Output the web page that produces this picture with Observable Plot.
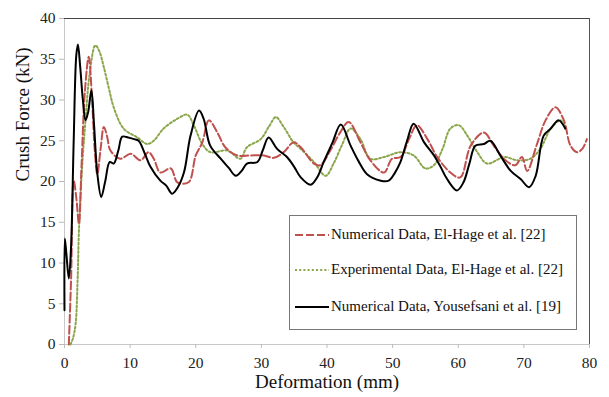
<!DOCTYPE html>
<html>
<head>
<meta charset="utf-8">
<script src="https://cdn.jsdelivr.net/npm/d3@7"></script>
<script src="https://cdn.jsdelivr.net/npm/@observablehq/plot@0.6"></script>
<style>
  body { margin: 0; background: #fff; }
  #wrap { position: relative; width: 609px; height: 397px; font-family: 'Liberation Serif', 'Times New Roman', Times, 'Nimbus Roman', 'Nimbus Roman No9 L', Tinos, 'Noto Serif', 'DejaVu Serif', FreeSerif, serif; }
  #wrap svg, #wrap svg text { font-family: 'Liberation Serif', 'Times New Roman', Times, 'Nimbus Roman', 'Nimbus Roman No9 L', Tinos, 'Noto Serif', 'DejaVu Serif', FreeSerif, serif !important; }
  #wrap svg g[aria-label="y-axis tick"] path, #wrap svg g[aria-label="x-axis tick"] path { stroke: #bbb; }
  #legend { position: absolute; left: 289px; top: 215px; width: 288px; height: 115px; border: 1px solid #777; background: #fff; box-sizing: border-box; }
  .row { position: absolute; left: 5px; display: flex; align-items: center; font-size: 15px; color: #111; white-space: nowrap; }
  .row svg { margin-right: 2px; }
</style>
</head>
<body>
<div id="wrap"></div>
<script>
// Series: Numerical Data, El-Hage et al. [22] (red dashed)
const redX = [0.66,1.0,1.4,1.8,2.2,2.6,3.1,3.7,4.2,4.6,5.0,5.5,6.0,6.5,7.0,8.5,10.1,11.6,12.8,13.6,14.6,16.2,17.2,18.9,20.0,21.0,22.0,23.3,24.5,26.3,28.3,30.4,31.9,33.4,34.9,36.0,38.0,39.0,40.5,42.0,43.3,45.1,46.6,48.7,49.9,51.2,52.5,53.7,55.3,56.8,58.8,60.3,61.9,63.9,65.4,67.2,68.7,69.7,70.5,72.0,73.3,74.8,76.1,77.1,78.1,78.9,79.6];
const redY = [0,8,20.1,18,14.8,22,31,35.3,30,24,20.9,24,26.7,25.5,23.8,22.8,23.4,22.6,23.6,22.8,21.1,21.6,19.9,19.9,23.2,24.8,27.5,26.0,24.2,23.2,23.2,23.2,22.9,23.6,24.8,24.2,22.2,22.0,23.8,26.0,27.3,24.8,22.6,21.1,22.8,23.0,25.2,26.9,25.2,23.0,21.1,20.5,24.4,26.0,24.4,22.6,22.0,23.0,21.3,24.6,27.5,29.1,27.5,24.4,23.6,24.0,25.2];

// Series: Experimental Data, El-Hage et al. [22] (green dotted)
const greenX = [0.9,1.3,1.7,2.0,2.2,2.7,3.2,3.8,4.7,5.3,6.0,6.8,7.5,9.0,11.1,12.6,13.6,15.1,17.2,18.7,19.7,21.0,22.2,24.8,26.8,27.8,29.9,31.2,32.2,33.4,34.9,36.0,38.0,39.8,41.0,42.3,43.6,45.1,46.6,48.7,51.2,53.2,55.0,56.3,57.6,58.8,60.1,61.4,62.9,64.4,67.0,69.0,71.0,72.5,74.1,75.6,76.3];
const greenY = [0,0.8,2.6,8,14,22,27.5,33,36.7,36,34.0,31.3,29.1,26.5,25.4,24.6,25,26.5,27.7,28.2,26.9,24.6,23.6,23.8,22.8,24.2,25.2,26.8,27.9,26.7,24.8,24.0,22.4,20.7,22.2,24.5,26.5,25.2,22.8,23.0,23.6,23.2,21.6,22.0,24.0,26.5,26.9,25.6,23.6,22.2,23.0,22.6,22.8,24.0,26.5,27.5,26.7];

// Series: Numerical Data, Yousefsani et al. [19] (black solid)
const blackX = [0,0.05,0.3,0.66,1.0,1.4,1.8,2.05,2.4,2.8,3.2,3.6,4.1,4.5,5.0,5.6,6.2,6.9,7.5,8.2,8.8,9.7,10.6,11.3,12.2,13.1,14.6,15.5,16.4,17.2,18.2,19.2,20.5,21.2,22.2,23.8,25.0,26.1,27.0,27.8,29.4,30.2,31.1,32.4,33.9,35.0,36.0,37.5,38.5,39.5,40.8,42.1,43.6,44.8,46.1,48.2,49.4,50.3,51.2,52.2,53.2,54.8,56.3,57.3,58.3,59.8,60.8,61.7,62.6,63.9,64.9,66.4,68.0,69.5,70.8,71.8,73.0,74.1,75.3,76.3];
const blackY = [4.2,13.0,11,8.1,12,25,35.5,36.8,34,30,27.5,28.5,31.2,27,21,18.1,20,22.4,22.2,23.8,25.5,25.4,25.2,25.0,23.5,21.8,20.1,19.5,18.5,19.2,21.1,25.6,28.7,27.7,24.4,22.8,21.7,20.7,21.3,22.2,22.4,23.8,25.4,24.0,23.0,21.8,20.5,19.6,20.5,22.4,24.7,27.0,24.4,22.5,20.9,20.1,20.1,21,22.4,25,27.1,24.8,23.2,21.8,20.3,18.9,19.9,22.2,24.4,24.6,25.0,23.2,21.3,20.3,19.3,20.7,25.6,26.5,27.5,26.5];

const xTicks = [0,10,20,30,40,50,60,70,80];
const yTicks = [0,5,10,15,20,25,30,35,40];
const seriesNames = [
  "Numerical Data, El-Hage et al. [22]",
  "Experimental Data, El-Hage et al. [22]",
  "Numerical Data, Yousefsani et al. [19]"
];
const seriesColors = ["#c0504d", "#8aa64a", "#000000"];
const seriesDash = ["8,3", "2,2.2", null];
const seriesWidth = [2, 2, 2];

const toRows = (xs, ys) => xs.map((x, i) => ({x, y: ys[i]}));
const red = toRows(redX, redY);
const green = toRows(greenX, greenY);
const black = toRows(blackX, blackY);

const chart = Plot.plot({
  width: 609,
  height: 397,
  marginLeft: 64,
  marginRight: 20,
  marginTop: 18,
  marginBottom: 53,
  style: {fontSize: "15.5px", color: "#222", background: "#fff", overflow: "visible"},
  x: {domain: [0, 80]},
  y: {domain: [0, 40]},
  marks: [
    Plot.ruleX([0], {stroke: "#c8c8c8"}),
    Plot.ruleY([0], {stroke: "#c8c8c8"}),
    Plot.ruleY([40], {stroke: "#444"}),
    Plot.ruleX([80], {stroke: "#555"}),
    Plot.axisY({ticks: yTicks, tickSize: 5, tickPadding: 4, label: null}),
    Plot.axisX({ticks: xTicks, tickSize: 4, tickPadding: 8, label: null}),
    Plot.line(green, {x: "x", y: "y", stroke: seriesColors[1], strokeWidth: seriesWidth[1], strokeDasharray: seriesDash[1], curve: "catmull-rom"}),
    Plot.line(red, {x: "x", y: "y", stroke: seriesColors[0], strokeWidth: seriesWidth[0], strokeDasharray: seriesDash[0], curve: "catmull-rom"}),
    Plot.line(black, {x: "x", y: "y", stroke: seriesColors[2], strokeWidth: seriesWidth[2], curve: "catmull-rom"}),
    Plot.text(["Deformation (mm)"], {frameAnchor: "bottom", dy: 43, fontSize: 19, fill: "#111"}),
    Plot.text(["Crush Force (kN)"], {frameAnchor: "left", dx: -42, rotate: -90, fontSize: 19, fill: "#111"})
  ]
});

const wrap = document.getElementById("wrap");
wrap.appendChild(chart);

// Legend (HTML overlay)
const legend = document.createElement("div");
legend.id = "legend";
const rowTops = [10, 45, 82];
seriesNames.forEach((name, i) => {
  const row = document.createElement("div");
  row.className = "row";
  row.style.top = rowTops[i] + "px";
  const dash = seriesDash[i] ? `stroke-dasharray="${seriesDash[i]}"` : "";
  row.innerHTML = `<svg width="34" height="10"><line x1="0" y1="5" x2="34" y2="5" stroke="${seriesColors[i]}" stroke-width="2.2" ${dash}/></svg><span>${name}</span>`;
  legend.appendChild(row);
});
wrap.appendChild(legend);
</script>
</body>
</html>
